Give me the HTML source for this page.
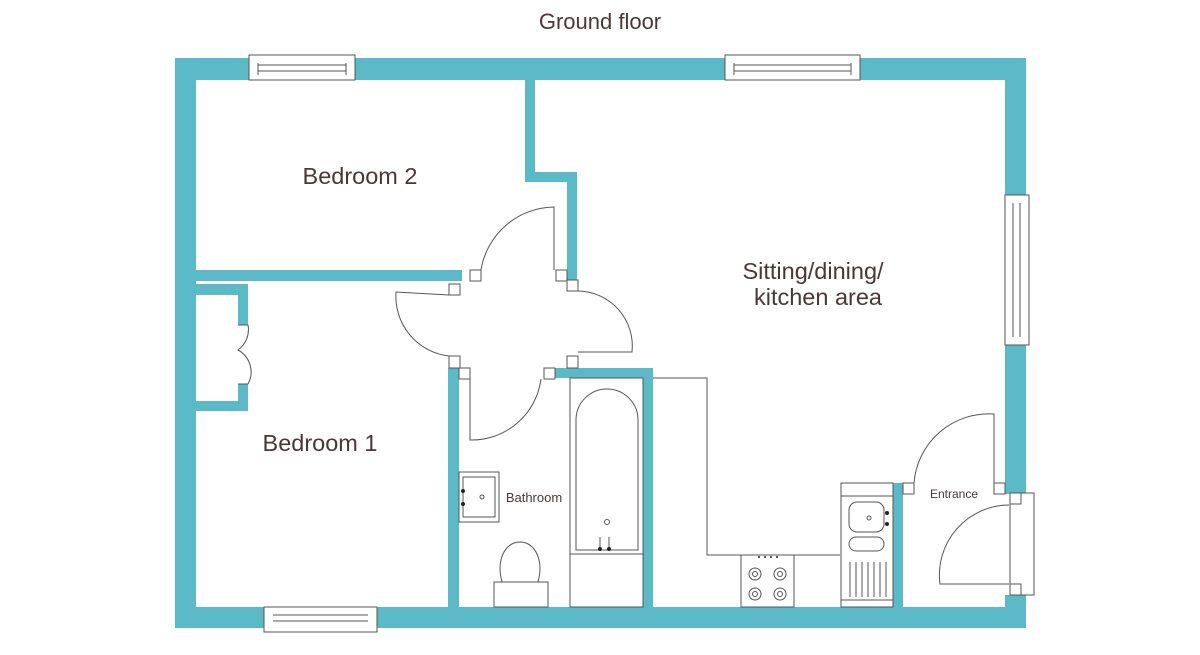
<!DOCTYPE html>
<html><head><meta charset="utf-8"><style>
html,body{margin:0;padding:0;background:#fff;width:1200px;height:655px;overflow:hidden}
text{font-family:"Liberation Sans",sans-serif;fill:#4a3838}
</style></head><body>
<svg width="1200" height="655" viewBox="0 0 1200 655" xmlns="http://www.w3.org/2000/svg">
<text x="600" y="29" font-size="22" text-anchor="middle">Ground floor</text>
<g fill="#5cbac8">
<rect x="175" y="58" width="851" height="22"/>
<rect x="175" y="58" width="21" height="570"/>
<rect x="175" y="607" width="851" height="21"/>
<rect x="1005" y="58" width="21" height="436"/>
<rect x="1005" y="595" width="21" height="33"/>
<rect x="196" y="270" width="266" height="11"/>
<rect x="525" y="80" width="10" height="102"/>
<rect x="525" y="172" width="52" height="10"/>
<rect x="567" y="172" width="10" height="108"/>
<rect x="196" y="284" width="52" height="11"/>
<rect x="238" y="284" width="10" height="41"/>
<rect x="238" y="384" width="10" height="27"/>
<rect x="196" y="401" width="52" height="10"/>
<rect x="448" y="368" width="11" height="239"/>
<rect x="555" y="368" width="98" height="10"/>
<rect x="643" y="368" width="10" height="239"/>
<rect x="893" y="483" width="10" height="124"/>
</g>
<g fill="#fff" stroke="#555" stroke-width="1">
<rect x="249" y="55" width="106" height="25"/>
<rect x="725" y="55" width="135" height="25"/>
<rect x="264" y="607" width="113" height="25"/>
<rect x="1005" y="195" width="24" height="150"/>
<rect x="1010" y="493" width="24" height="102"/>
</g>
<g fill="none" stroke="#555" stroke-width="1">
<line x1="258" y1="63" x2="258" y2="75"/><line x1="346" y1="63" x2="346" y2="75"/>
<line x1="258" y1="65" x2="346" y2="65"/><line x1="258" y1="71" x2="346" y2="71"/>
<line x1="734" y1="63" x2="734" y2="75"/><line x1="851" y1="63" x2="851" y2="75"/>
<line x1="734" y1="65" x2="851" y2="65"/><line x1="734" y1="71" x2="851" y2="71"/>
<line x1="273" y1="615" x2="368" y2="615"/><line x1="273" y1="621" x2="368" y2="621"/>
<line x1="1013" y1="203" x2="1013" y2="337"/><line x1="1020" y1="203" x2="1020" y2="337"/>
<rect x="470" y="270" width="11" height="11" fill="#fff"/>
<rect x="449" y="284" width="11" height="11" fill="#fff"/>
<rect x="556" y="270" width="11" height="11" fill="#fff"/>
<rect x="567" y="280" width="11" height="11" fill="#fff"/>
<rect x="449" y="356" width="11" height="12" fill="#fff"/>
<rect x="459" y="368" width="11" height="11" fill="#fff"/>
<rect x="567" y="356" width="11" height="12" fill="#fff"/>
<rect x="544" y="368" width="11" height="11" fill="#fff"/>
<rect x="903" y="483" width="11" height="11" fill="#fff"/>
<rect x="994" y="483" width="11" height="11" fill="#fff"/>
<rect x="1010" y="493" width="11" height="11" fill="#fff"/>
<rect x="1010" y="584" width="11" height="11" fill="#fff"/>
<path d="M481 270 A75 75 0 0 1 554 207 L554 270"/>
<path d="M449 295 L396 292 A60 60 0 0 0 449 356"/>
<path d="M578 291 A55 55 0 0 1 632 352 L578 352"/>
<path d="M470 379 L470 440 A70 70 0 0 0 541 379"/>
<path d="M914 483 A75 75 0 0 1 994 414 L994 483"/>
<path d="M1009 505 A70 70 0 0 0 940 584 L1009 584"/>
<path d="M238 325 L248 325 A25 25 0 0 1 238 350 A25 25 0 0 1 248 384 L238 384"/>
<rect x="570" y="378" width="73" height="176"/>
<path d="M576 550 L576 420 A31 31 0 0 1 638 420 L638 550 Z"/>
<circle cx="607" cy="522" r="2.5"/>
<rect x="570" y="554" width="73" height="53"/>
<line x1="600" y1="537" x2="600" y2="549"/><line x1="609" y1="537" x2="609" y2="549"/>
<rect x="459" y="472" width="40" height="50"/>
<rect x="463" y="477" width="32" height="40"/>
<circle cx="482" cy="497" r="2"/>
<rect x="494" y="582" width="54" height="25"/>
<path d="M502 582 C496 560 505 542 520 542 C535 542 544 560 538 582"/>
<path d="M653 378 L707 378 L707 555 L840 555"/>
<rect x="741" y="555" width="53" height="52"/>
<circle cx="755" cy="574" r="6"/><circle cx="755" cy="574" r="2.5"/>
<circle cx="780" cy="574" r="6"/><circle cx="780" cy="574" r="2.5"/>
<circle cx="755" cy="594" r="6"/><circle cx="755" cy="594" r="2.5"/>
<circle cx="780" cy="594" r="6"/><circle cx="780" cy="594" r="2.5"/>
<rect x="841" y="483" width="52" height="124"/>
<line x1="841" y1="496" x2="893" y2="496"/>
<rect x="849" y="502" width="35" height="30" rx="8"/>
<circle cx="869" cy="518" r="2"/>
<rect x="849" y="537" width="35" height="14" rx="7"/>
<g><line x1="850" y1="562" x2="850" y2="597"/><line x1="856" y1="562" x2="856" y2="597"/><line x1="862" y1="562" x2="862" y2="597"/><line x1="868" y1="562" x2="868" y2="597"/><line x1="874" y1="562" x2="874" y2="597"/><line x1="880" y1="562" x2="880" y2="597"/><line x1="886" y1="562" x2="886" y2="597"/></g>
<line x1="841" y1="600" x2="893" y2="600"/>
</g>
<g fill="#222">
<circle cx="463" cy="491" r="2"/><circle cx="463" cy="504" r="2"/>
<circle cx="600" cy="549" r="2"/><circle cx="609" cy="549" r="2"/>
<circle cx="887" cy="513" r="2"/><circle cx="887" cy="524" r="2"/>
<circle cx="759" cy="557" r="1"/><circle cx="765" cy="557" r="1"/><circle cx="771" cy="557" r="1"/><circle cx="777" cy="557" r="1"/>
</g>
<text x="360" y="184" font-size="23.5" text-anchor="middle">Bedroom 2</text>
<text x="320" y="451" font-size="23.5" text-anchor="middle">Bedroom 1</text>
<text x="813" y="279" font-size="23.5" text-anchor="middle">Sitting/dining/</text>
<text x="818" y="305" font-size="23.5" text-anchor="middle">kitchen area</text>
<text x="534" y="502" font-size="13" text-anchor="middle">Bathroom</text>
<text x="954" y="498" font-size="12" text-anchor="middle">Entrance</text>
</svg>
</body></html>
